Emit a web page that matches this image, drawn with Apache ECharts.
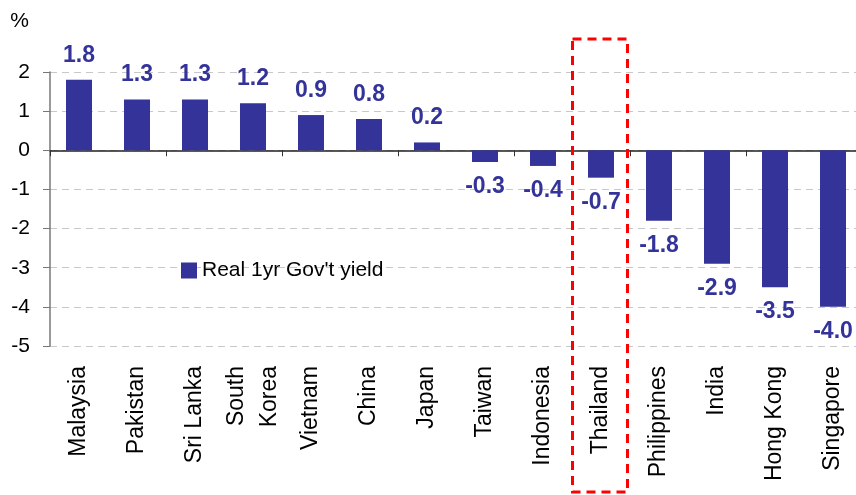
<!DOCTYPE html>
<html>
<head>
<meta charset="utf-8">
<script src="https://cdn.jsdelivr.net/npm/echarts@6/dist/echarts.min.js"></script>
<style>
    html, body { margin: 0; padding: 0; background: #fff; }
    #chart { width: 856px; height: 495px; }
</style>
</head>
<body>
<div id="chart"></div>
<script>
// 国家 / 地区
var countries = ['Malaysia', 'Pakistan', 'Sri Lanka', 'South\nKorea', 'Vietnam', 'China', 'Japan',
    'Taiwan', 'Indonesia', 'Thailand', 'Philippines', 'India', 'Hong Kong', 'Singapore'];

// Real 1yr Gov't yield (%)
var realYield = [1.8, 1.3, 1.3, 1.2, 0.9, 0.8, 0.2, -0.3, -0.4, -0.7, -1.8, -2.9, -3.5, -4.0];

// y轴刻度
var yTicks = [-5, -4, -3, -2, -1, 0, 1, 2];

var seriesName = "Real 1yr Gov't yield";
var highlight = 'Thailand';

var barColor = '#333399';
var fontFamily = '"Liberation Sans", Arial, sans-serif';

var chart = echarts.init(document.getElementById('chart'));

var option = {
    animation: false,
    backgroundColor: '#fff',
    textStyle: { fontFamily: fontFamily },
    grid: {
        left: 50,
        top: 72,
        width: 812,
        height: 274,
        outerBoundsMode: 'none'
    },
    legend: {
        data: [{ name: seriesName, icon: 'rect' }],
        left: 176,
        top: 255,
        itemWidth: 16,
        itemHeight: 16,
        itemGap: 8,
        textStyle: { fontSize: 21, color: '#000', fontFamily: fontFamily }
    },
    xAxis: [{
        type: 'category',
        data: countries,
        axisLine: { onZero: true, lineStyle: { color: '#222', width: 1.5 } },
        axisTick: { show: true, length: 6, lineStyle: { color: '#333' } },
        axisLabel: { show: false }
    }, {
        type: 'category',
        data: countries,
        position: 'bottom',
        axisLine: { show: false },
        axisTick: { show: false },
        axisLabel: {
            rotate: 90,
            margin: 20,
            fontSize: 23,
            color: '#000',
            lineHeight: 33,
            fontFamily: fontFamily
        }
    }],
    yAxis: {
        type: 'value',
        min: yTicks[0],
        max: yTicks[yTicks.length - 1],
        interval: 1,
        name: '%',
        nameLocation: 'end',
        nameGap: 0,
        nameTextStyle: { fontSize: 21, color: '#000', align: 'right', verticalAlign: 'bottom', padding: [0, 21, 40, 0] },
        axisLine: { show: true, lineStyle: { color: '#777', width: 1.5 } },
        axisTick: { show: true, length: 7, lineStyle: { color: '#777' } },
        axisLabel: { fontSize: 21, color: '#000', margin: 20, fontFamily: fontFamily },
        splitLine: { show: true, lineStyle: { color: '#c8c8c8', type: [7, 5], width: 1 } }
    },
    series: [{
        name: seriesName,
        type: 'bar',
        barWidth: 26,
        itemStyle: { color: barColor },
        label: {
            show: true,
            position: 'top',
            distance: 13,
            fontSize: 23,
            fontWeight: 'bold',
            color: barColor,
            fontFamily: fontFamily,
            formatter: function (p) {
                return p.value.toFixed(1);
            }
        },
        // 正负值标签位置分开设置
        data: realYield.map(function (v) {
            return {
                value: v,
                label: { position: v >= 0 ? 'top' : 'bottom' }
            };
        })
    }]
};

chart.setOption(option);

// Thailand 红色虚线框
var idx = countries.indexOf(highlight);
var cx = chart.convertToPixel({ xAxisIndex: 0 }, idx);
chart.setOption({
    graphic: [{
        type: 'rect',
        shape: { x: cx - 28.5, y: 39, width: 55, height: 453 },
        style: { fill: 'none', stroke: '#ff0000', lineWidth: 3, lineDash: [9, 6] },
        z: 100
    }]
});
</script>
</body>
</html>
